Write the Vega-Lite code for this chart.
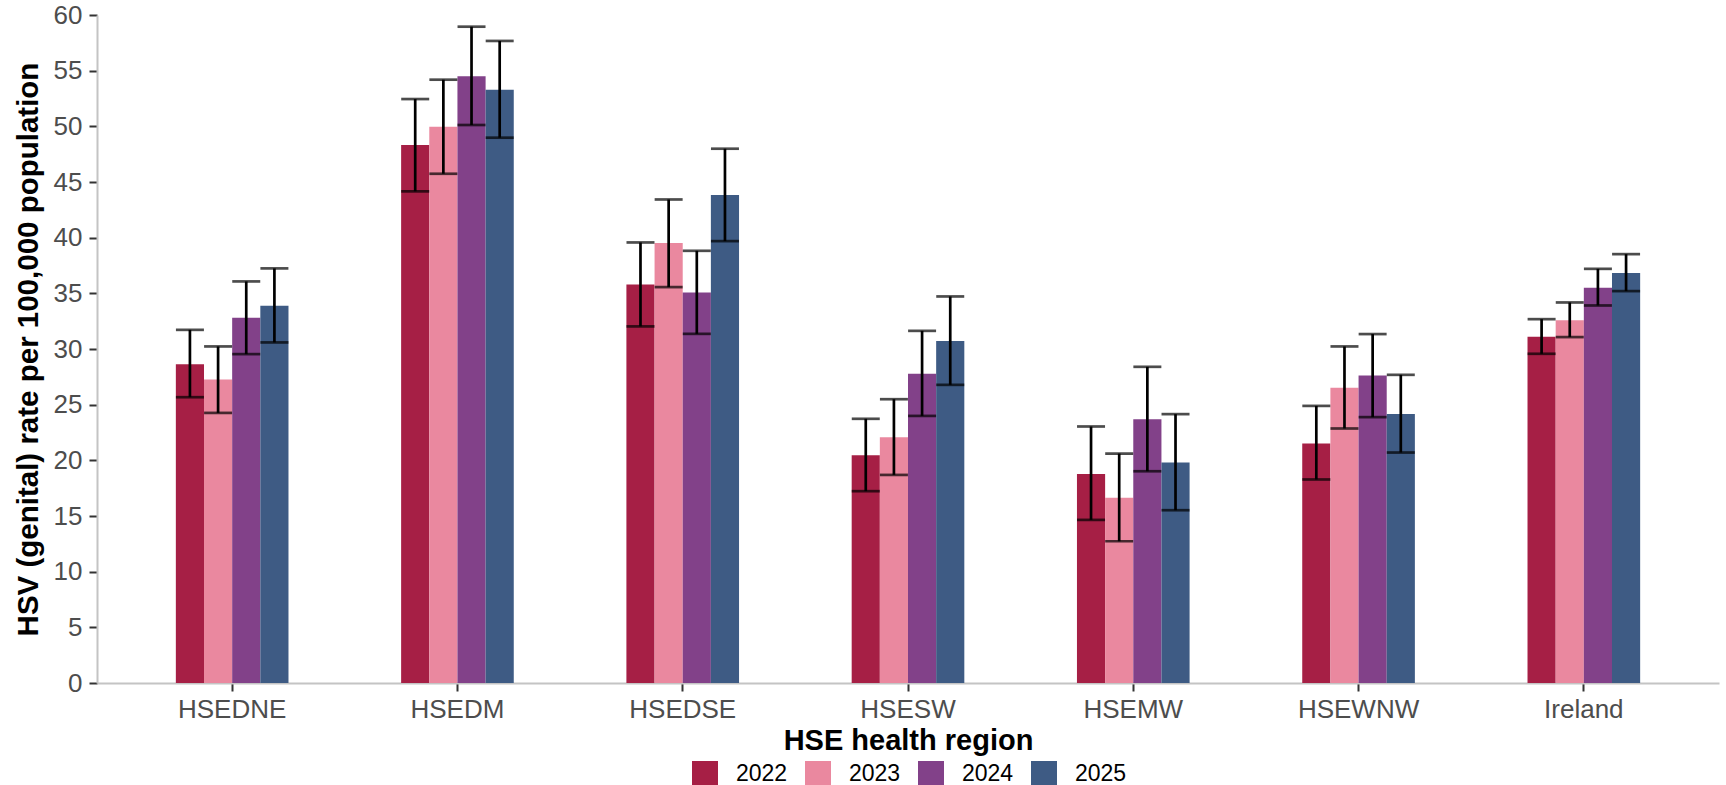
{
  "$schema": "https://vega.github.io/schema/vega-lite/v6.json",
  "width": 1622,
  "height": 668,
  "autosize": {"type": "none"},
  "padding": {"left": 97, "top": 15, "right": 7, "bottom": 102},
  "background": "white",
  "config": {"view": {"stroke": null}, "font": "Liberation Sans"},
  "data": {"values": [
    {"region": "HSEDNE", "year": "2022", "rate": 28.64, "lo": 25.67, "hi": 31.72},
    {"region": "HSEDNE", "year": "2023", "rate": 27.26, "lo": 24.26, "hi": 30.23},
    {"region": "HSEDNE", "year": "2024", "rate": 32.80, "lo": 29.54, "hi": 36.07},
    {"region": "HSEDNE", "year": "2025", "rate": 33.88, "lo": 30.59, "hi": 37.24},
    {"region": "HSEDM", "year": "2022", "rate": 48.32, "lo": 44.16, "hi": 52.45},
    {"region": "HSEDM", "year": "2023", "rate": 49.96, "lo": 45.74, "hi": 54.19},
    {"region": "HSEDM", "year": "2024", "rate": 54.49, "lo": 50.12, "hi": 58.95},
    {"region": "HSEDM", "year": "2025", "rate": 53.29, "lo": 48.98, "hi": 57.67},
    {"region": "HSEDSE", "year": "2022", "rate": 35.80, "lo": 32.03, "hi": 39.57},
    {"region": "HSEDSE", "year": "2023", "rate": 39.52, "lo": 35.56, "hi": 43.43},
    {"region": "HSEDSE", "year": "2024", "rate": 35.07, "lo": 31.36, "hi": 38.82},
    {"region": "HSEDSE", "year": "2025", "rate": 43.83, "lo": 39.69, "hi": 47.99},
    {"region": "HSESW", "year": "2022", "rate": 20.46, "lo": 17.23, "hi": 23.73},
    {"region": "HSESW", "year": "2023", "rate": 22.08, "lo": 18.69, "hi": 25.49},
    {"region": "HSESW", "year": "2024", "rate": 27.77, "lo": 23.99, "hi": 31.63},
    {"region": "HSESW", "year": "2025", "rate": 30.71, "lo": 26.78, "hi": 34.72},
    {"region": "HSEMW", "year": "2022", "rate": 18.78, "lo": 14.65, "hi": 23.04},
    {"region": "HSEMW", "year": "2023", "rate": 16.63, "lo": 12.73, "hi": 20.61},
    {"region": "HSEMW", "year": "2024", "rate": 23.70, "lo": 19.02, "hi": 28.40},
    {"region": "HSEMW", "year": "2025", "rate": 19.80, "lo": 15.52, "hi": 24.15},
    {"region": "HSEWNW", "year": "2022", "rate": 21.51, "lo": 18.28, "hi": 24.89},
    {"region": "HSEWNW", "year": "2023", "rate": 26.51, "lo": 22.86, "hi": 30.23},
    {"region": "HSEWNW", "year": "2024", "rate": 27.62, "lo": 23.88, "hi": 31.34},
    {"region": "HSEWNW", "year": "2025", "rate": 24.17, "lo": 20.70, "hi": 27.68},
    {"region": "Ireland", "year": "2022", "rate": 31.09, "lo": 29.57, "hi": 32.68},
    {"region": "Ireland", "year": "2023", "rate": 32.59, "lo": 31.07, "hi": 34.18},
    {"region": "Ireland", "year": "2024", "rate": 35.50, "lo": 33.91, "hi": 37.20},
    {"region": "Ireland", "year": "2025", "rate": 36.82, "lo": 35.20, "hi": 38.52}
  ]},
  "encoding": {
    "x": {
      "field": "region", "type": "nominal",
      "sort": ["HSEDNE", "HSEDM", "HSEDSE", "HSESW", "HSEMW", "HSEWNW", "Ireland"],
      "scale": {"paddingInner": 0.5, "paddingOuter": 0.35},
      "axis": {
        "title": "HSE health region", "labelAngle": 0,
        "labelFontSize": 26, "labelColor": "#4D4D4D", "labelPadding": 5,
        "tickSize": 8, "tickColor": "#333333", "tickWidth": 2,
        "domainColor": "#C4C4C4", "domainWidth": 2,
        "titleFontSize": 29, "titleFontWeight": "bold", "titleColor": "black", "titlePadding": 4
      }
    },
    "xOffset": {
      "field": "year", "type": "nominal", "sort": ["2022", "2023", "2024", "2025"],
      "scale": {"paddingInner": 0, "paddingOuter": 0}
    }
  },
  "layer": [
    {
      "mark": {"type": "bar"},
      "encoding": {
        "y": {
          "field": "rate", "type": "quantitative",
          "scale": {"domain": [0, 60], "nice": false},
          "axis": {
            "title": "HSV (genital) rate per 100,000 population",
            "values": [0, 5, 10, 15, 20, 25, 30, 35, 40, 45, 50, 55, 60],
            "grid": false,
            "labelFontSize": 26, "labelColor": "#4D4D4D", "labelPadding": 7,
            "tickSize": 8, "tickColor": "#333333", "tickWidth": 2,
            "domainColor": "#C4C4C4", "domainWidth": 2,
            "titleFontSize": 29.5, "titleFontWeight": "bold", "titleColor": "black", "titlePadding": 10
          }
        },
        "color": {
          "field": "year", "type": "nominal",
          "scale": {"domain": ["2022", "2023", "2024", "2025"], "range": ["#A61F45", "#EA889F", "#824189", "#3E5B84"]},
          "legend": {
            "title": null, "orient": "none", "legendX": 595, "legendY": 746,
            "direction": "horizontal", "symbolType": "square", "symbolSize": 676,
            "symbolStrokeWidth": 0, "labelFontSize": 23, "labelColor": "black",
            "labelOffset": 18, "columnPadding": 17, "padding": 0
          }
        }
      }
    },
    {
      "mark": {"type": "rule", "color": "black", "strokeWidth": 2.7},
      "encoding": {
        "y": {"field": "lo", "type": "quantitative", "title": "HSV (genital) rate per 100,000 population"},
        "y2": {"field": "hi"}
      }
    },
    {
      "mark": {"type": "tick", "orient": "horizontal", "size": 28, "thickness": 2.7, "color": "black"},
      "encoding": {
        "y": {"field": "lo", "type": "quantitative", "title": "HSV (genital) rate per 100,000 population"}
      }
    },
    {
      "mark": {"type": "tick", "orient": "horizontal", "size": 28, "thickness": 2.7, "color": "black"},
      "encoding": {
        "y": {"field": "hi", "type": "quantitative", "title": "HSV (genital) rate per 100,000 population"}
      }
    }
  ]
}
